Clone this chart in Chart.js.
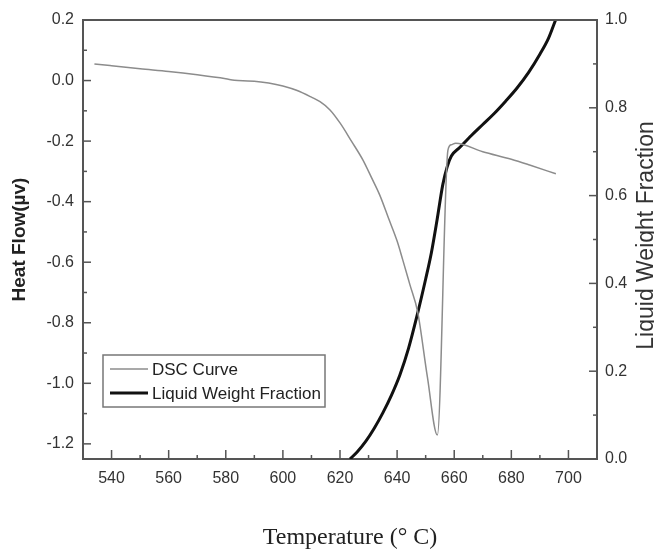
<!DOCTYPE html>
<html>
<head>
<meta charset="utf-8">
<script src="https://cdn.jsdelivr.net/npm/chart.js@4.4.1/dist/chart.umd.min.js"></script>
<style>
  html, body { margin: 0; padding: 0; background: #fff; }
</style>
</head>
<body>
<canvas id="myChart" width="654" height="551"></canvas>
<script>
// Curva DSC (temperatura en °C, flujo de calor en µv)
const dscTemp = [534, 540, 550, 560, 570, 580, 583, 586, 590, 595,
                 600, 605, 610, 613, 616.5, 620, 624, 628, 631, 634,
                 637, 640, 642, 644.5, 647.2, 650.6, 654.1, 657.8, 659, 660.5,
                 670, 680, 686.4, 695.6];
const dscHeat = [0.055, 0.049, 0.039, 0.030, 0.019, 0.006, 0.001, -0.001, -0.002, -0.008,
                 -0.018, -0.033, -0.055, -0.07, -0.097, -0.14, -0.2, -0.262, -0.32, -0.38,
                 -0.455, -0.53, -0.593, -0.675, -0.764, -0.979, -1.171, -0.23, -0.212, -0.207,
                 -0.235, -0.26, -0.279, -0.308];

// Fracción de líquido (eje derecho)
const liqTemp = [623.5, 626, 629, 632, 635, 638, 641, 644, 647, 650,
                 652, 654, 656, 657.5, 659, 662, 666, 670, 674, 678,
                 682, 686, 690, 693, 695.5];
const liqFrac = [0, 0.016, 0.04, 0.07, 0.105, 0.145, 0.192, 0.252, 0.327, 0.41,
                 0.47, 0.545, 0.625, 0.665, 0.69, 0.71, 0.737, 0.762, 0.787, 0.815,
                 0.845, 0.88, 0.922, 0.958, 1.0];

// Etiquetas de los ejes
const tempTicks = [540, 560, 580, 600, 620, 640, 660, 680, 700];
const heatTicks = [0.2, 0.0, -0.2, -0.4, -0.6, -0.8, -1.0, -1.2];
const fracTicks = [0.0, 0.2, 0.4, 0.6, 0.8, 1.0];

const seriesNames = ['DSC Curve', 'Liquid Weight Fraction'];
const xTitle = 'Temperature (° C)';
const yTitle = 'Heat Flow(µv)';
const y2Title = 'Liquid Weight Fraction';

const sans = '"Liberation Sans", Arial, sans-serif';
const serif = '"Liberation Serif", "Times New Roman", serif';

// puntos medios entre ticks -> ticks menores
function midpoints(arr) {
    const out = [];
    for (let i = 0; i < arr.length - 1; i++) out.push((arr[i] + arr[i + 1]) / 2);
    return out;
}

// marco: ticks hacia adentro, borde superior, títulos inferior y derecho
const framePlugin = {
    id: 'frame',
    afterDraw(chart) {
        const { ctx, chartArea: a, scales } = chart;
        ctx.save();
        ctx.strokeStyle = '#555';
        ctx.lineWidth = 1.5;
        const line = (x1, y1, x2, y2) => {
            ctx.beginPath(); ctx.moveTo(x1, y1); ctx.lineTo(x2, y2); ctx.stroke();
        };
        tempTicks.forEach(v => { const p = scales.x.getPixelForValue(v); line(p, a.bottom, p, a.bottom - 9); });
        midpoints(tempTicks).forEach(v => { const p = scales.x.getPixelForValue(v); line(p, a.bottom, p, a.bottom - 4); });
        heatTicks.forEach(v => { const p = scales.y.getPixelForValue(v); line(a.left, p, a.left + 8, p); });
        midpoints(heatTicks).forEach(v => { const p = scales.y.getPixelForValue(v); line(a.left, p, a.left + 4, p); });
        fracTicks.forEach(v => { const p = scales.y2.getPixelForValue(v); line(a.right, p, a.right - 8, p); });
        midpoints(fracTicks).forEach(v => { const p = scales.y2.getPixelForValue(v); line(a.right, p, a.right - 4, p); });

        ctx.lineWidth = 2;
        line(a.left - 1, a.top, a.right + 1, a.top);

        // título del eje x (algo corrido a la derecha, como en la figura)
        ctx.fillStyle = '#222';
        ctx.font = '24px ' + serif;
        ctx.textAlign = 'center';
        ctx.textBaseline = 'alphabetic';
        ctx.fillText(scales.x.options.title.text, (a.left + a.right) / 2 + 10, 544);

        // título del eje derecho, leído de abajo hacia arriba
        ctx.fillStyle = '#333';
        ctx.font = '23px ' + sans;
        ctx.translate(653, (a.top + a.bottom) / 2 - 4);
        ctx.rotate(-Math.PI / 2);
        ctx.fillText(scales.y2.options.title.text, 0, 0);
        ctx.restore();
    }
};

// leyenda dentro del área del gráfico
const legendPlugin = {
    id: 'legendBox',
    afterDatasetsDraw(chart) {
        const { ctx, chartArea: a } = chart;
        const x = a.left + 20, y = a.top + 335, w = 222, h = 52;
        ctx.save();
        ctx.fillStyle = '#fff';
        ctx.fillRect(x, y, w, h);
        ctx.strokeStyle = '#777';
        ctx.lineWidth = 1.5;
        ctx.strokeRect(x, y, w, h);
        chart.data.datasets.forEach((ds, i) => {
            const ly = y + 14 + i * 24;
            ctx.strokeStyle = ds.borderColor;
            ctx.lineWidth = ds.borderWidth;
            ctx.beginPath(); ctx.moveTo(x + 7, ly); ctx.lineTo(x + 45, ly); ctx.stroke();
            ctx.fillStyle = '#222';
            ctx.font = '17px ' + sans;
            ctx.textBaseline = 'middle';
            ctx.fillText(ds.label, x + 49, ly + 1);
        });
        ctx.restore();
    }
};

const config = {
    type: 'line',
    data: {
        datasets: [{
            label: seriesNames[0],
            data: dscTemp.map((t, i) => ({ x: t, y: dscHeat[i] })),
            yAxisID: 'y',
            borderColor: '#8c8c8c',
            borderWidth: 1.5,
            pointRadius: 0,
            cubicInterpolationMode: 'monotone',
            fill: false,
        }, {
            label: seriesNames[1],
            data: liqTemp.map((t, i) => ({ x: t, y: liqFrac[i] })),
            yAxisID: 'y2',
            borderColor: '#111',
            borderWidth: 3,
            pointRadius: 0,
            cubicInterpolationMode: 'monotone',
            fill: false,
        }],
    },
    options: {
        responsive: false,
        animation: false,
        devicePixelRatio: 1,
        layout: { padding: { top: 20, left: 0, right: 0, bottom: 0 } },
        plugins: {
            legend: { display: false },
            tooltip: { enabled: false },
        },
        scales: {
            x: {
                type: 'linear',
                position: 'bottom',
                min: 530,
                max: 710,
                afterBuildTicks: s => { s.ticks = tempTicks.map(v => ({ value: v })); },
                afterFit: s => { s.height = 92; },
                ticks: { color: '#333', font: { family: sans, size: 16 }, padding: 10, maxRotation: 0 },
                grid: { drawOnChartArea: false, drawTicks: false },
                border: { color: '#555', width: 2 },
                title: { display: false, text: xTitle },
            },
            y: {
                type: 'linear',
                position: 'left',
                min: -1.25,
                max: 0.2,
                afterBuildTicks: s => { s.ticks = heatTicks.map(v => ({ value: v })); },
                afterFit: s => { s.width = 83; },
                ticks: { color: '#333', font: { family: sans, size: 16 }, padding: 9, callback: v => v.toFixed(1) },
                grid: { drawOnChartArea: false, drawTicks: false },
                border: { color: '#555', width: 2 },
                title: {
                    display: true, text: yTitle, color: '#222',
                    font: { family: sans, size: 19, weight: 'bold' },
                    padding: { top: 8, bottom: 0 },
                },
            },
            y2: {
                type: 'linear',
                position: 'right',
                min: 0,
                max: 1,
                afterBuildTicks: s => { s.ticks = fracTicks.map(v => ({ value: v })); },
                afterFit: s => { s.width = 57; },
                ticks: { color: '#333', font: { family: sans, size: 16 }, padding: 8, callback: v => v.toFixed(1) },
                grid: { drawOnChartArea: false, drawTicks: false },
                border: { color: '#555', width: 2 },
                title: { display: false, text: y2Title },
            },
        },
    },
    plugins: [legendPlugin, framePlugin],
};

const ctx = document.getElementById('myChart').getContext('2d');
const myChart = new Chart(ctx, config);
</script>
</body>
</html>
